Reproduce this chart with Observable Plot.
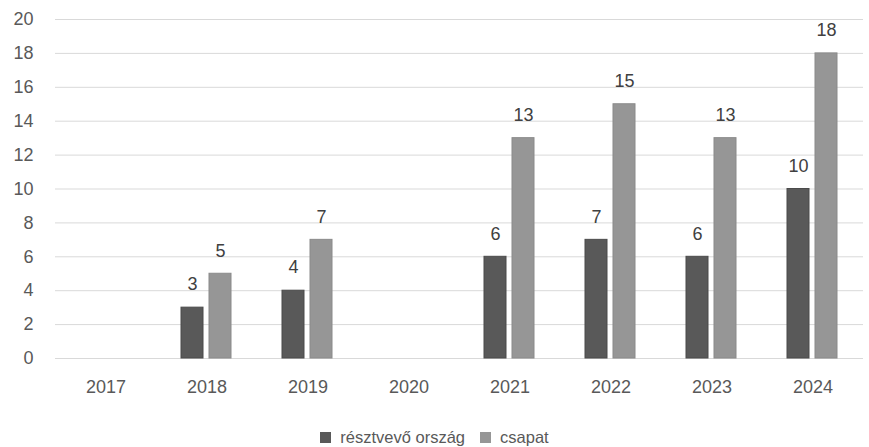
<!DOCTYPE html>
<html>
<head>
<meta charset="utf-8">
<script src="https://cdn.jsdelivr.net/npm/d3@7"></script>
<script src="https://cdn.jsdelivr.net/npm/@observablehq/plot@0.6"></script>
<style>
  html, body { margin: 0; padding: 0; background: #fff; }
  #chart { width: 869px; }
  .legend { display: flex; justify-content: center; gap: 15px; font: 16.5px "Liberation Sans", Arial, sans-serif; line-height: 20px; color: #595959; margin-top: 27px; }
  .legend span.item { display: inline-flex; align-items: center; gap: 9px; }
  .legend i { display: inline-block; width: 11px; height: 11px; }
</style>
</head>
<body>
<div id="chart"></div>
<script>
const years = ["2017", "2018", "2019", "2020", "2021", "2022", "2023", "2024"];
const seriesNames = ["résztvevő ország", "csapat"];
const countries = [null, 3, 4, null, 6, 7, 6, 10];
const teams = [null, 5, 7, null, 13, 15, 13, 18];
const colors = ["#595959", "#969696"];
const strokes = ["#4b4b4b", "#8a8a8a"];
const yTicks = [0, 2, 4, 6, 8, 10, 12, 14, 16, 18, 20];

const data = [];
years.forEach((y, i) => {
  if (countries[i] != null) data.push({year: y, series: seriesNames[0], value: countries[i]});
  if (teams[i] != null) data.push({year: y, series: seriesNames[1], value: teams[i]});
});

const font = '"Liberation Sans", Arial, sans-serif';
const chart = Plot.plot({
  width: 869,
  height: 400,
  marginTop: 19,
  marginBottom: 42,
  marginLeft: 52,
  marginRight: 3,
  style: {fontFamily: font, fontSize: "18px", color: "#595959", background: "#fff", overflow: "visible"},
  fx: {domain: years, padding: 0, label: null, axis: "bottom", tickSize: 0, tickPadding: 22},
  x: {domain: seriesNames, paddingInner: 0.207, paddingOuter: 0.862, axis: null},
  y: {domain: [0, 20], ticks: yTicks, label: null, axis: null},
  color: {domain: seriesNames, range: colors},
  marks: [
    Plot.gridY(yTicks, {stroke: "#d9d9d9", strokeOpacity: 1, strokeWidth: 1}),
    Plot.ruleY(years, {fx: d => d, y: 0, stroke: "#d9d9d9", strokeWidth: 1}),
    Plot.axisY(yTicks, {tickSize: 0, tickPadding: 22, label: null, fontSize: 18, fill: "#595959"}),
    Plot.barY(data, {fx: "year", x: "series", y: "value", fill: "series",
      stroke: d => strokes[seriesNames.indexOf(d.series)], strokeWidth: 1}),
    Plot.text(data, {fx: "year", x: "series", y: "value", text: d => String(d.value),
      dy: -23, fontSize: 18, fill: "#404040"})
  ]
});
document.getElementById("chart").appendChild(chart);

const legend = document.createElement("div");
legend.className = "legend";
seriesNames.forEach((s, i) => {
  const item = document.createElement("span");
  item.className = "item";
  const sw = document.createElement("i");
  sw.style.background = colors[i];
  item.appendChild(sw);
  item.appendChild(document.createTextNode(s));
  legend.appendChild(item);
});
document.getElementById("chart").appendChild(legend);
</script>
</body>
</html>
